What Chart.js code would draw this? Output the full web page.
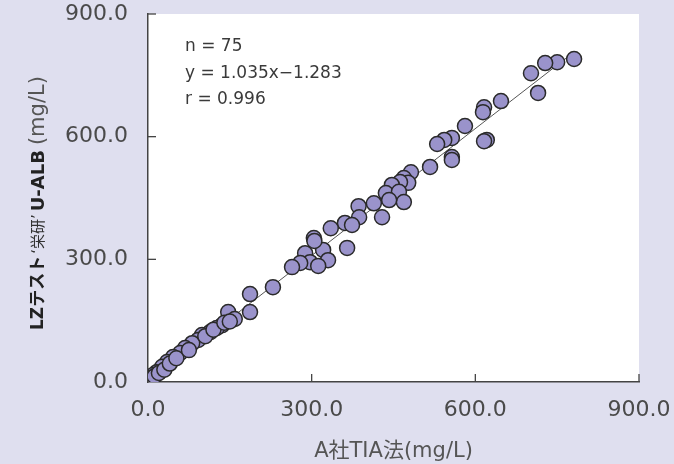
<!DOCTYPE html>
<html>
<head>
<meta charset="utf-8">
<script src="https://cdn.jsdelivr.net/npm/chart.js@4"></script>
<style>
  html, body { margin: 0; padding: 0; background: #dfdfef; }
  #wrap { width: 674px; height: 464px; }
</style>
</head>
<body>
<div id="wrap"><canvas id="scatter"></canvas></div>
<script>
// A社TIA法 (x) vs LZテスト'栄研' U-ALB (y), mg/L
var xVals = [781, 750, 728, 702, 715, 647, 616, 614, 621, 616,
             581, 557, 543, 530, 557, 557, 517, 482, 469, 477,
             462, 447, 436, 460, 469, 442, 414, 386, 429, 387,
             361, 374, 335, 304, 365, 321, 288, 297, 330, 312,
             279, 264, 229, 187, 187, 147, 159, 136, 126, 114,
             99, 92, 81, 68, 59, 46, 35, 26, 16, 9,
             4, 1, 2, 6, 12, 20, 30, 40, 52, 75,
             105, 120, 140, 305, 150];
var yVals = [790, 782, 780, 755, 707, 687, 672, 660, 592, 589,
             626, 597, 592, 582, 550, 543, 526, 513, 499, 487,
             489, 482, 462, 465, 440, 445, 437, 430, 403, 403,
             389, 384, 376, 352, 328, 323, 315, 293, 298, 284,
             291, 281, 232, 215, 171, 171, 154, 139, 132, 122,
             115, 103, 95, 83, 71, 61, 49, 37, 24, 17,
             10, 5, 3, 8, 14, 22, 30, 45, 58, 78,
             112, 128, 145, 345, 148];
var tickVals = [0, 300, 600, 900];
var fitSlope = 1.035, fitIntercept = -1.283, fitRange = [0, 775];
var statLines = ['n = 75', 'y = 1.035x\u22121.283', 'r = 0.996'];
var xTitle = 'A社TIA法(mg/L)';
var yTitleParts = [
  { text: 'LZテスト', font: 'bold 17px "DejaVu Sans", "Noto Sans CJK JP"', color: '#222', gap: 2 },
  { text: '\u2018栄研\u2019', font: '15px "DejaVu Sans", "Noto Sans CJK JP"', color: '#333', gap: 3 },
  { text: 'U-ALB', font: 'bold 18px "DejaVu Sans", "Noto Sans CJK JP"', color: '#222', gap: 5 },
  { text: '(mg/L)', font: '21px "DejaVu Sans", "Noto Sans CJK JP"', color: '#555', gap: 0 }
];

var points = [];
for (var i = 0; i < xVals.length; i++) points.push({ x: xVals[i], y: yVals[i] });
var fitLine = fitRange.map(function (v) { return { x: v, y: fitSlope * v + fitIntercept }; });

var FONT = '"DejaVu Sans", "Noto Sans CJK JP", sans-serif';

var decor = {
  id: 'decor',
  beforeDraw: function (chart) {
    var c = chart.ctx, a = chart.chartArea;
    c.save();
    c.fillStyle = '#dfdfef';
    c.fillRect(0, 0, chart.width, chart.height);
    c.fillStyle = '#ffffff';
    c.fillRect(a.left, a.top, a.right - a.left, a.bottom - a.top);
    c.restore();
  },
  afterDraw: function (chart) {
    var c = chart.ctx, a = chart.chartArea;
    var xs = chart.scales.x, ys = chart.scales.y;
    c.save();
    // inward tick marks
    c.strokeStyle = '#444';
    c.lineWidth = 1.3;
    tickVals.forEach(function (v) {
      if (v === 0) return;
      var px = xs.getPixelForValue(v), py = ys.getPixelForValue(v);
      c.beginPath(); c.moveTo(px, a.bottom); c.lineTo(px, a.bottom - 8); c.stroke();
      c.beginPath(); c.moveTo(a.left, py); c.lineTo(a.left + 8, py); c.stroke();
    });
    // stats text
    c.fillStyle = '#3a3a3a';
    c.font = '17px ' + FONT;
    c.textBaseline = 'middle';
    statLines.forEach(function (t, k) {
      c.fillText(t, a.left + 37, a.top + 33 + k * 26.5);
    });
    // y title with mixed styles
    c.translate(39, 330);
    c.rotate(-Math.PI / 2);
    c.textBaseline = 'middle';
    var pos = 0;
    yTitleParts.forEach(function (p) {
      c.font = p.font;
      c.fillStyle = p.color;
      c.fillText(p.text, pos, 0);
      pos += c.measureText(p.text).width + p.gap;
    });
    c.restore();
  }
};

function fixedTicks(s) {
  s.ticks = tickVals.map(function (v) { return { value: v }; });
}

new Chart(document.getElementById('scatter'), {
  type: 'scatter',
  data: {
    datasets: [
      {
        data: points,
        backgroundColor: '#9a93cb',
        borderColor: '#2a2a2a',
        borderWidth: 1.5,
        pointRadius: 7.5,
        order: 1
      },
      {
        type: 'line',
        data: fitLine,
        borderColor: '#555',
        borderWidth: 1,
        pointRadius: 0,
        fill: false,
        order: 2
      }
    ]
  },
  options: {
    responsive: true,
    maintainAspectRatio: false,
    animation: false,
    layout: { padding: { top: 14, right: 35, left: 0, bottom: 0 } },
    plugins: { legend: { display: false }, tooltip: { enabled: false } },
    scales: {
      x: {
        type: 'linear', min: 0, max: 900,
        afterBuildTicks: fixedTicks,
        afterFit: function (s) { s.height = 82; s.paddingLeft = 0; s.paddingRight = 0; },
        grid: { display: false },
        border: { display: true, color: '#444', width: 1.5 },
        ticks: {
          padding: 7, color: '#4a4a4a', font: { family: FONT, size: 22 },
          maxRotation: 0,
          callback: function (v) { return Number(v).toFixed(1); }
        },
        title: { display: true, text: xTitle, color: '#555', font: { family: FONT, size: 21 }, padding: { top: 10, bottom: 0 } }
      },
      y: {
        type: 'linear', min: 0, max: 900,
        afterBuildTicks: fixedTicks,
        afterFit: function (s) { s.width = 148; s.paddingTop = 0; s.paddingBottom = 0; },
        grid: { display: false },
        border: { display: true, color: '#444', width: 1.5 },
        ticks: {
          padding: 12, color: '#4a4a4a', font: { family: FONT, size: 22 },
          callback: function (v) { return Number(v).toFixed(1); }
        }
      }
    }
  },
  plugins: [decor]
});
</script>
</body>
</html>
